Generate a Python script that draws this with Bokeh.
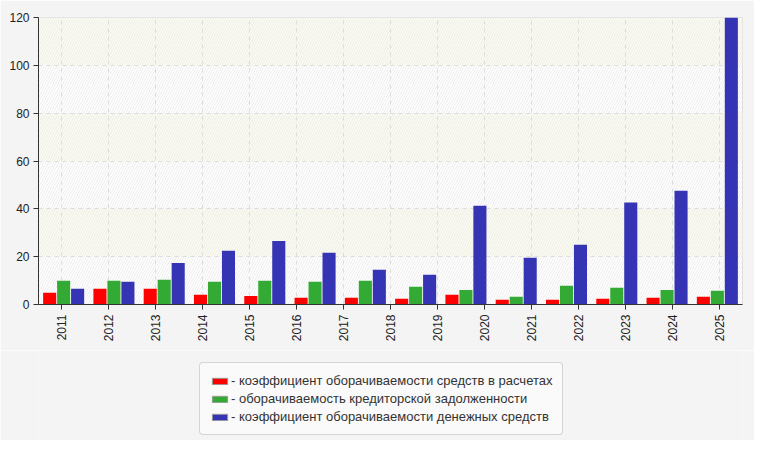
from bokeh.plotting import figure
from bokeh.models import (FactorRange, Range1d, Legend, LegendItem, BoxAnnotation,
                          ColumnDataSource, SingleIntervalTicker)
from bokeh.layouts import column
from bokeh.transform import dodge
from bokeh.embed import file_html
from bokeh.resources import INLINE
import math

years = ["2011", "2012", "2013", "2014", "2015", "2016", "2017", "2018",
         "2019", "2020", "2021", "2022", "2023", "2024", "2025"]
groups = years[:14]
red_vals = [4.9, 6.6, 6.6, 4.1, 3.6, 2.8, 2.8, 2.4, 4.1, 2.0, 2.0, 2.4, 2.8, 3.2]
green_vals = [9.9, 9.9, 10.3, 9.5, 9.9, 9.5, 9.9, 7.4, 6.1, 3.2, 7.8, 7.0, 6.1, 5.7]
blue_vals = [6.6, 9.5, 17.4, 22.5, 26.6, 21.6, 14.5, 12.4, 41.3, 19.5, 25.0, 42.6, 47.6, 120]
labels = ["- коэффициент оборачиваемости средств в расчетах",
          "- оборачиваемость кредиторской задолженности",
          "- коэффициент оборачиваемости денежных средств"]
colors = ["#ff0000", "#33aa33", "#3434b4"]
y_ticks = [0, 20, 40, 60, 80, 100, 120]

FONT = "Liberation Sans"
BG = "#f4f4f4"

p = figure(width=754, height=350, output_backend="svg", toolbar_location=None,
           x_range=FactorRange(*years, range_padding=0),
           y_range=Range1d(0, 120),
           min_border_left=38, min_border_right=12, min_border_top=17, min_border_bottom=46)
p.extra_x_ranges = {"bars": FactorRange(*groups, range_padding=0)}

p.border_fill_color = BG
p.background_fill_color = "#ffffff"
p.outline_line_color = "#dddddd"

# background bands and hatching
for i in range(len(y_ticks) - 1):
    if i % 2 == 1:
        p.add_layout(BoxAnnotation(bottom=y_ticks[i], top=y_ticks[i + 1],
                                   fill_color="#fbfbee", fill_alpha=1.0,
                                   line_alpha=0, level="image"))
p.add_layout(BoxAnnotation(fill_alpha=0, line_alpha=0, hatch_pattern="/",
                           hatch_color="#ececec", hatch_scale=5, hatch_weight=1,
                           level="image"))

src = ColumnDataSource(dict(grp=groups, red=red_vals, green=green_vals, blue=blue_vals))
offs = [-0.278, 0.0, 0.278]
for key, off, col in zip(["red", "green", "blue"], offs, colors):
    p.vbar(x=dodge("grp", off, range=p.extra_x_ranges["bars"]), top=key, width=0.26,
           source=src, x_range_name="bars", fill_color=col, line_color=None)

# grids
for g in (p.xgrid, p.ygrid):
    g.grid_line_color = "#dddddd"
    g.grid_line_dash = "4 4"
    g.grid_line_width = 1
p.ygrid.ticker = SingleIntervalTicker(interval=20)

# axes
p.yaxis.ticker = SingleIntervalTicker(interval=20)
for ax in (p.xaxis, p.yaxis):
    ax.axis_line_color = "#333333"
    ax.major_tick_line_color = "#333333"
    ax.major_tick_out = 5
    ax.major_tick_in = 0
    ax.minor_tick_line_color = None
    ax.major_label_text_font = FONT
    ax.major_label_text_font_size = "12px"
    ax.major_label_text_color = "#222222"
p.yaxis.major_label_standoff = 4
p.xaxis.major_label_orientation = math.pi / 2
p.xaxis.major_label_standoff = 5

# legend figure (no axes)
p2 = figure(width=754, height=90, output_backend="svg", toolbar_location=None,
            x_range=Range1d(0, 1), y_range=Range1d(0, 1),
            x_axis_location=None, y_axis_location=None,
            min_border=0, min_border_left=0, min_border_right=0,
            min_border_top=0, min_border_bottom=0)
p2.grid.visible = False
p2.outline_line_color = None
p2.background_fill_color = BG
p2.border_fill_color = BG
rends = []
for col in colors:
    # zero-height bar far outside the visible range: only its legend swatch shows
    rends.append(p2.vbar(x=[-1000], top=[-1000], bottom=[-1000], width=0.1,
                         fill_color=col, line_color="#999999", line_width=1))

legend = Legend(items=[LegendItem(label=l, renderers=[r]) for l, r in zip(labels, rends)],
                location=(161, 5), orientation="vertical")
legend.label_text_font = FONT
legend.label_text_font_size = "13px"
legend.label_text_color = "#333333"
legend.glyph_width = 19
legend.glyph_height = 8
legend.label_height = 14
legend.spacing = 3
legend.label_standoff = 2
legend.padding = 10
legend.margin = 0
legend.border_line_color = "#b0b0b0"
legend.background_fill_color = "#fafafa"
legend.background_fill_alpha = 1.0
if hasattr(legend, "border_radius"):
    legend.border_radius = 4
p2.add_layout(legend, "center")

layout = column(p, p2, spacing=0)
open("out.html", "w").write(file_html(layout, INLINE))
